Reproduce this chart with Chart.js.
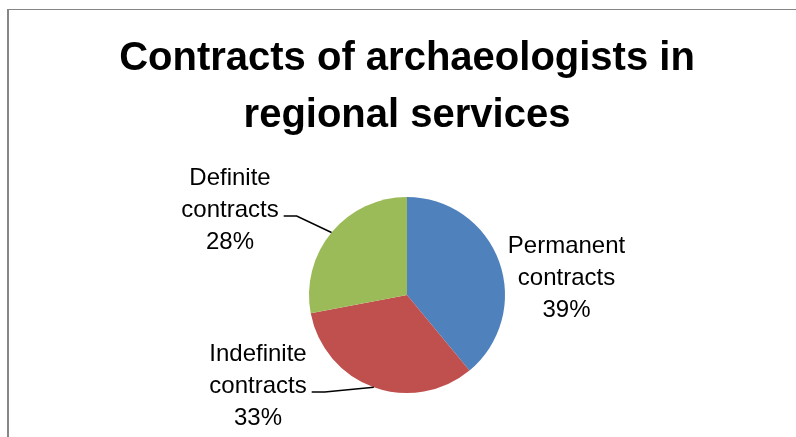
<!DOCTYPE html>
<html>
<head>
<meta charset="utf-8">
<script src="https://cdn.jsdelivr.net/npm/chart.js@4/dist/chart.umd.min.js"></script>
<style>
  html, body { margin: 0; padding: 0; background: #ffffff; }
  #wrap { width: 796px; height: 437px; }
</style>
</head>
<body>
<div id="wrap"><canvas id="c" width="796" height="437"></canvas></div>
<script>
// ---- data ----
const categories = ['Permanent contracts', 'Indefinite contracts', 'Definite contracts'];
const values = [39, 33, 28];
const sliceColors = ['#4F81BD', '#C0504D', '#9BBB59'];
const titleLines = ['Contracts of archaeologists in', 'regional services'];

// ---- label placement (relative to pie centre) ----
const labelPlacement = [
  { dx: 159.5, dy: -10, leader: false },
  { dx: -149, dy: 98, leader: true },
  { dx: -177, dy: -78, leader: true }
];

const FONT = '"Liberation Sans", Arial, sans-serif';

const framePlugin = {
  id: 'frame',
  beforeDraw(chart) {
    const ctx = chart.ctx;
    ctx.save();
    ctx.fillStyle = '#ffffff';
    ctx.fillRect(0, 0, chart.width, chart.height);
    ctx.fillStyle = '#868686';
    ctx.fillRect(7, 9, 2, chart.height - 9);
    ctx.fillRect(7, 9, chart.width - 7, 1);
    ctx.restore();
  }
};

const labelPlugin = {
  id: 'pieLabels',
  afterDatasetsDraw(chart) {
    const ctx = chart.ctx;
    const meta = chart.getDatasetMeta(0);
    const data = chart.data.datasets[0].data;
    const total = data.reduce((a, b) => a + b, 0);
    ctx.save();
    ctx.font = '24px ' + FONT;
    ctx.fillStyle = '#000000';
    ctx.textAlign = 'center';
    ctx.textBaseline = 'alphabetic';
    meta.data.forEach((arc, i) => {
      const p = arc.getProps(['x', 'y', 'startAngle', 'endAngle', 'outerRadius'], true);
      const pl = labelPlacement[i];
      const cx = p.x + pl.dx;
      const midBase = p.y + pl.dy;
      const words = chart.data.labels[i].split(' ');
      const pct = Math.round(data[i] / total * 100) + '%';
      const lines = [words[0], words.slice(1).join(' '), pct];
      const lh = 32;
      lines.forEach((t, k) => {
        ctx.fillText(t, cx, midBase + (k - 1) * lh);
      });
      if (pl.leader) {
        const w = ctx.measureText(lines[1]).width;
        const sx = cx + w / 2 + 5;
        const sy = midBase - 1;
        const mid = (p.startAngle + p.endAngle) / 2;
        const ex = p.x + Math.cos(mid) * p.outerRadius;
        const ey = p.y + Math.sin(mid) * p.outerRadius;
        ctx.strokeStyle = '#000000';
        ctx.lineWidth = 1.5;
        ctx.beginPath();
        ctx.moveTo(sx, sy);
        ctx.lineTo(sx + 13, sy);
        ctx.lineTo(ex, ey);
        ctx.stroke();
      }
    });
    ctx.restore();
  }
};

new Chart(document.getElementById('c'), {
  type: 'pie',
  data: {
    labels: categories,
    datasets: [{
      data: values,
      backgroundColor: sliceColors,
      borderWidth: 0
    }]
  },
  options: {
    responsive: false,
    animation: false,
    layout: { padding: { left: 18, right: 0, top: 0, bottom: 44 } },
    plugins: {
      legend: { display: false },
      tooltip: { enabled: false },
      title: {
        display: true,
        text: titleLines,
        color: '#000000',
        font: { family: FONT, size: 40, weight: 'bold', lineHeight: 1.425 },
        padding: { top: 30.5, bottom: 52.5 }
      }
    }
  },
  plugins: [framePlugin, labelPlugin]
});
</script>
</body>
</html>
